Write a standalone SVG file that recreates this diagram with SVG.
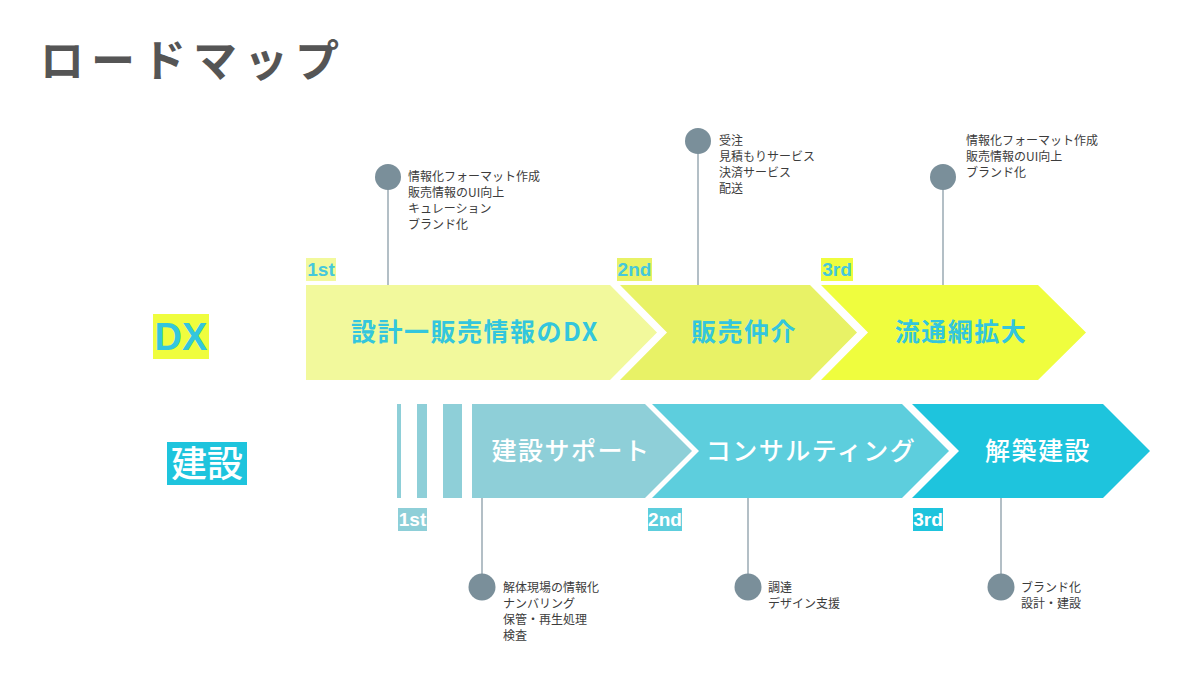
<svg xmlns="http://www.w3.org/2000/svg" width="1200" height="675" viewBox="0 0 1200 675">
<style>
.title{font-family:"Noto Sans CJK JP","Noto Sans",sans-serif;font-size:44px;font-weight:700;fill:#555555;letter-spacing:7px}
.top{font-family:"Noto Sans CJK JP","Noto Sans",sans-serif;font-size:25px;font-weight:700;fill:#33c6dd;letter-spacing:1.5px}
.bot{font-family:"Noto Sans CJK JP","Noto Sans",sans-serif;font-size:25px;font-weight:500;fill:#ffffff;letter-spacing:1.5px}
.ord{font-family:"Liberation Sans",Arial,sans-serif;font-size:19px;font-weight:700}
.ordt{fill:#45c8dc}
.ordb{fill:#ffffff}
.note{font-family:"Noto Sans CJK JP","Noto Sans",sans-serif;font-size:12px;font-weight:400;fill:#3c3c3c}
.pin{fill:#7a8f9a}
.stem{stroke:#9aaab3;stroke-width:1.5;fill:none}
</style>
<rect width="1200" height="675" fill="#ffffff"/>
<text class="title" x="40" y="77">ロードマップ</text>

<g id="row-dx">
<rect x="153" y="314" width="56" height="45" fill="#effd3e"/>
<text x="181" y="350" text-anchor="middle" font-family="Liberation Sans, Arial, sans-serif" font-size="38" font-weight="700" fill="#33c6dd">DX</text>
</g>
<g id="row-build">
<rect x="167" y="442" width="80" height="43" fill="#1ec4dd"/>
<text x="207" y="477" text-anchor="middle" font-family="Noto Sans CJK JP, Noto Sans, sans-serif" font-size="36" font-weight="500" fill="#ffffff">建設</text>
</g>

<g id="connectors">
<line class="stem" x1="388" y1="177" x2="388" y2="285"/>
<line class="stem" x1="698" y1="141" x2="698" y2="285"/>
<line class="stem" x1="943" y1="177" x2="943" y2="285"/>
<line class="stem" x1="482" y1="498" x2="482" y2="587"/>
<line class="stem" x1="748" y1="498" x2="748" y2="587"/>
<line class="stem" x1="1001" y1="498" x2="1001" y2="587"/>
</g>

<g id="dx-1">
<polygon points="306,285 610,285 657,332.5 610,380 306,380" fill="#f2f99c"/>
<text class="top" x="475" y="341" text-anchor="middle">設計一販売情報のDX</text>
<rect x="306" y="258" width="30" height="23" fill="#f2f99c"/>
<text class="ord ordt" x="321" y="276" text-anchor="middle">1st</text>
</g>
<g id="dx-2">
<polygon points="620,285 810,285 857,332.5 810,380 620,380 667,332.5" fill="#e8f266"/>
<text class="top" x="744" y="341" text-anchor="middle">販売仲介</text>
<rect x="617" y="258" width="35" height="23" fill="#e8f266"/>
<text class="ord ordt" x="634.5" y="276" text-anchor="middle">2nd</text>
</g>
<g id="dx-3">
<polygon points="821,285 1038,285 1086,332.5 1038,380 821,380 868,332.5" fill="#effd3e"/>
<text class="top" x="961" y="341" text-anchor="middle">流通網拡大</text>
<rect x="821" y="258" width="32" height="23" fill="#effd3e"/>
<text class="ord ordt" x="837" y="276" text-anchor="middle">3rd</text>
</g>

<g id="build-1">
<rect x="397" y="404" width="4" height="94" fill="#8ecfd8"/>
<rect x="417" y="404" width="10" height="94" fill="#8ecfd8"/>
<rect x="443" y="404" width="19" height="94" fill="#8ecfd8"/>
<polygon points="472,404 645,404 692,451 645,498 472,498" fill="#8ecfd8"/>
<text class="bot" x="571" y="460" text-anchor="middle">建設サポート</text>
<rect x="398" y="508" width="29" height="23" fill="#8ecfd8"/>
<text class="ord ordb" x="412.5" y="526" text-anchor="middle">1st</text>
</g>
<g id="build-2">
<polygon points="652,404 902,404 949,451 902,498 652,498 699,451" fill="#5dcedd"/>
<text class="bot" x="811" y="460" text-anchor="middle">コンサルティング</text>
<rect x="648" y="508" width="34" height="23" fill="#5dcedd"/>
<text class="ord ordb" x="665" y="526" text-anchor="middle">2nd</text>
</g>
<g id="build-3">
<polygon points="912,404 1103,404 1150,451 1103,498 912,498 959,451" fill="#1ec4dd"/>
<text class="bot" x="1038" y="460" text-anchor="middle">解築建設</text>
<rect x="913" y="508" width="30" height="23" fill="#1ec4dd"/>
<text class="ord ordb" x="928" y="526" text-anchor="middle">3rd</text>
</g>

<g id="pin-dx-1">
<circle class="pin" cx="388" cy="177" r="13"/>
<text class="note" x="408" y="181">情報化フォーマット作成</text>
<text class="note" x="408" y="197">販売情報のUI向上</text>
<text class="note" x="408" y="213">キュレーション</text>
<text class="note" x="408" y="229">ブランド化</text>
</g>
<g id="pin-dx-2">
<circle class="pin" cx="698" cy="141" r="13"/>
<text class="note" x="719" y="145">受注</text>
<text class="note" x="719" y="161">見積もりサービス</text>
<text class="note" x="719" y="177">決済サービス</text>
<text class="note" x="719" y="193">配送</text>
</g>
<g id="pin-dx-3">
<circle class="pin" cx="943" cy="177" r="13"/>
<text class="note" x="966" y="145">情報化フォーマット作成</text>
<text class="note" x="966" y="161">販売情報のUI向上</text>
<text class="note" x="966" y="177">ブランド化</text>
</g>
<g id="pin-build-1">
<circle class="pin" cx="482" cy="587" r="13.5"/>
<text class="note" x="503" y="592">解体現場の情報化</text>
<text class="note" x="503" y="608">ナンバリング</text>
<text class="note" x="503" y="624">保管・再生処理</text>
<text class="note" x="503" y="640">検査</text>
</g>
<g id="pin-build-2">
<circle class="pin" cx="748" cy="587" r="13.5"/>
<text class="note" x="768" y="592">調達</text>
<text class="note" x="768" y="608">デザイン支援</text>
</g>
<g id="pin-build-3">
<circle class="pin" cx="1001" cy="587" r="13.5"/>
<text class="note" x="1021" y="592">ブランド化</text>
<text class="note" x="1021" y="608">設計・建設</text>
</g>
</svg>
